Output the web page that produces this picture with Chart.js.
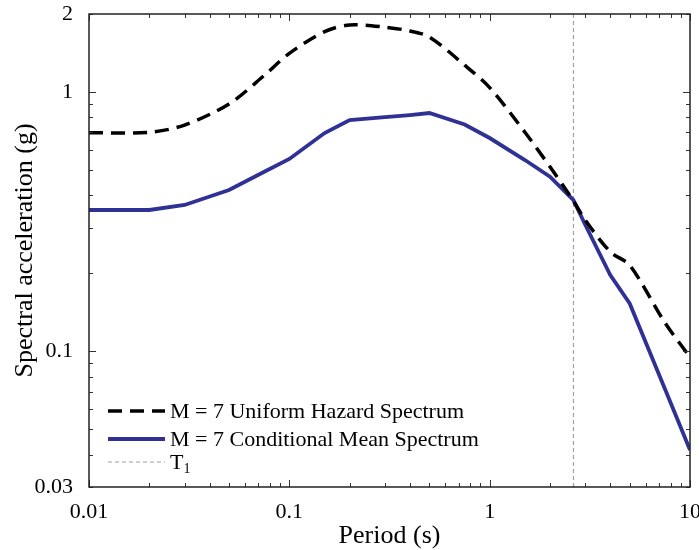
<!DOCTYPE html>
<html lang="en">
<head>
    <meta charset="UTF-8">
    <title>Uniform Hazard vs Conditional Mean Spectrum</title>
    <script src="https://cdn.jsdelivr.net/npm/chart.js"></script>
    <style>
        body {
            margin: 0;
            background-color: #ffffff;
        }
        #spectrumChart {
            display: block;
        }
    </style>
</head>
<body>
    <canvas id="spectrumChart" width="699" height="550"></canvas>

    <script>
        // periods (s) the spectra were read at
        const periods = [0.01, 0.02, 0.03, 0.05, 0.075, 0.1, 0.15, 0.2, 0.3, 0.4, 0.5, 0.75, 1, 1.5, 2, 2.62, 3, 4, 5, 7.5, 10];
        // M = 7 uniform hazard spectrum (g)
        const uhsValues = [0.697, 0.70, 0.746, 0.90, 1.16, 1.41, 1.71, 1.815, 1.78, 1.72, 1.63, 1.27, 1.04, 0.70, 0.515, 0.38, 0.321, 0.242, 0.215, 0.129, 0.095];
        // M = 7 conditional mean spectrum (g)
        const cmsValues = [0.351, 0.351, 0.367, 0.419, 0.493, 0.552, 0.695, 0.78, 0.80, 0.815, 0.83, 0.75, 0.665, 0.547, 0.472, 0.383, 0.308, 0.197, 0.153, 0.0716, 0.0417];
        // conditioning period T1 (s)
        const t1Period = 2.62;

        const xTickLabels = [0.01, 0.1, 1, 10];
        const yTickLabels = [0.03, 0.1, 1, 2];
        const xRange = [0.01, 10];
        const yRange = [0.03, 2];

        const serif = "'Liberation Serif', 'Times New Roman', serif";

        // inward ticks on all four sides plus the frame
        const frameTicks = {
            id: 'frameTicks',
            afterDraw(chart) {
                const ctx = chart.ctx;
                const area = chart.chartArea;
                const xs = chart.scales.x;
                const ys = chart.scales.y;
                ctx.save();
                ctx.strokeStyle = '#333';
                ctx.lineWidth = 1;
                ctx.beginPath();
                for (let d = -2; d <= 1; d++) {
                    for (let m = 1; m <= 9; m++) {
                        const v = m * Math.pow(10, d);
                        if (v < xRange[0] || v > xRange[1]) continue;
                        const px = Math.round(xs.getPixelForValue(v)) + 0.5;
                        const len = m === 1 ? 7 : 4;
                        ctx.moveTo(px, area.bottom);
                        ctx.lineTo(px, area.bottom - len);
                        ctx.moveTo(px, area.top);
                        ctx.lineTo(px, area.top + len);
                    }
                }
                for (let d = -2; d <= 0; d++) {
                    for (let m = 1; m <= 9; m++) {
                        const v = m * Math.pow(10, d);
                        if (v < yRange[0] || v > yRange[1]) continue;
                        const py = Math.round(ys.getPixelForValue(v)) + 0.5;
                        const len = m === 1 ? 7 : 4;
                        ctx.moveTo(area.left, py);
                        ctx.lineTo(area.left + len, py);
                        ctx.moveTo(area.right, py);
                        ctx.lineTo(area.right - len, py);
                    }
                }
                ctx.stroke();
                ctx.strokeStyle = '#222';
                ctx.lineWidth = 1.5;
                ctx.strokeRect(area.left, area.top, area.right - area.left, area.bottom - area.top);
                ctx.restore();
            }
        };

        // legend in the lower left corner of the plot
        const insideLegend = {
            id: 'insideLegend',
            afterDraw(chart) {
                const ctx = chart.ctx;
                const area = chart.chartArea;
                const rows = [area.bottom - 76, area.bottom - 48, area.bottom - 25];
                const x0 = area.left + 19;
                const x1 = area.left + 76;
                ctx.save();
                chart.data.datasets.forEach((ds, i) => {
                    const y = rows[i];
                    ctx.beginPath();
                    ctx.strokeStyle = ds.borderColor;
                    ctx.lineWidth = ds.borderWidth;
                    ctx.setLineDash(ds.borderDash || []);
                    ctx.moveTo(x0, y);
                    ctx.lineTo(x1, y);
                    ctx.stroke();
                    ctx.setLineDash([]);
                    ctx.fillStyle = '#000';
                    ctx.textBaseline = 'middle';
                    ctx.font = '22px ' + serif;
                    ctx.fillText(ds.label, x1 + 5, y + 1);
                    if (ds.labelSub) {
                        const w = ctx.measureText(ds.label).width;
                        ctx.font = '14px ' + serif;
                        ctx.fillText(ds.labelSub, x1 + 5 + w, y + 7);
                    }
                });
                ctx.restore();
            }
        };

        const ctx = document.getElementById('spectrumChart').getContext('2d');

        new Chart(ctx, {
            type: 'line',
            data: {
                datasets: [
                    {
                        label: 'M = 7 Uniform Hazard Spectrum',
                        data: periods.map((p, i) => ({ x: p, y: uhsValues[i] })),
                        borderColor: '#000000',
                        borderWidth: 3.5,
                        borderDash: [14, 8],
                        pointRadius: 0,
                        tension: 0.3,
                        fill: false
                    },
                    {
                        label: 'M = 7 Conditional Mean Spectrum',
                        data: periods.map((p, i) => ({ x: p, y: cmsValues[i] })),
                        borderColor: '#2f3194',
                        borderWidth: 3.8,
                        pointRadius: 0,
                        fill: false
                    },
                    {
                        label: 'T',
                        labelSub: '1',
                        data: [{ x: t1Period, y: yRange[0] }, { x: t1Period, y: yRange[1] }],
                        borderColor: '#a0a0a0',
                        borderWidth: 1.2,
                        borderDash: [4, 3],
                        pointRadius: 0,
                        fill: false
                    }
                ]
            },
            options: {
                responsive: false,
                animation: false,
                layout: {
                    padding: { top: 14, right: 9, left: 0, bottom: 0 }
                },
                scales: {
                    x: {
                        type: 'logarithmic',
                        min: xRange[0],
                        max: xRange[1],
                        grid: { display: false, drawTicks: false },
                        border: { display: false },
                        afterBuildTicks: (scale) => {
                            scale.ticks = xTickLabels.map(v => ({ value: v }));
                        },
                        afterFit: (scale) => {
                            scale.height = 63;
                            scale.paddingLeft = 0;
                            scale.paddingRight = 0;
                        },
                        ticks: {
                            autoSkip: false,
                            maxRotation: 0,
                            padding: 12,
                            color: '#000',
                            font: { family: serif, size: 22 },
                            callback: (v) => String(v)
                        },
                        title: {
                            display: true,
                            text: 'Period (s)',
                            color: '#000',
                            font: { family: serif, size: 26 },
                            padding: { top: 0, bottom: -2 }
                        }
                    },
                    y: {
                        type: 'logarithmic',
                        min: yRange[0],
                        max: yRange[1],
                        grid: { display: false, drawTicks: false },
                        border: { display: false },
                        afterBuildTicks: (scale) => {
                            scale.ticks = yTickLabels.map(v => ({ value: v }));
                        },
                        afterFit: (scale) => {
                            scale.width = 89;
                            scale.paddingTop = 0;
                            scale.paddingBottom = 0;
                        },
                        ticks: {
                            autoSkip: false,
                            padding: 16,
                            color: '#000',
                            font: { family: serif, size: 22 },
                            callback: (v) => String(v)
                        },
                        title: {
                            display: true,
                            text: 'Spectral acceleration (g)',
                            color: '#000',
                            font: { family: serif, size: 26 },
                            padding: { top: 10, bottom: 0 }
                        }
                    }
                },
                plugins: {
                    legend: { display: false },
                    tooltip: { enabled: false }
                }
            },
            plugins: [frameTicks, insideLegend]
        });
    </script>
</body>
</html>
